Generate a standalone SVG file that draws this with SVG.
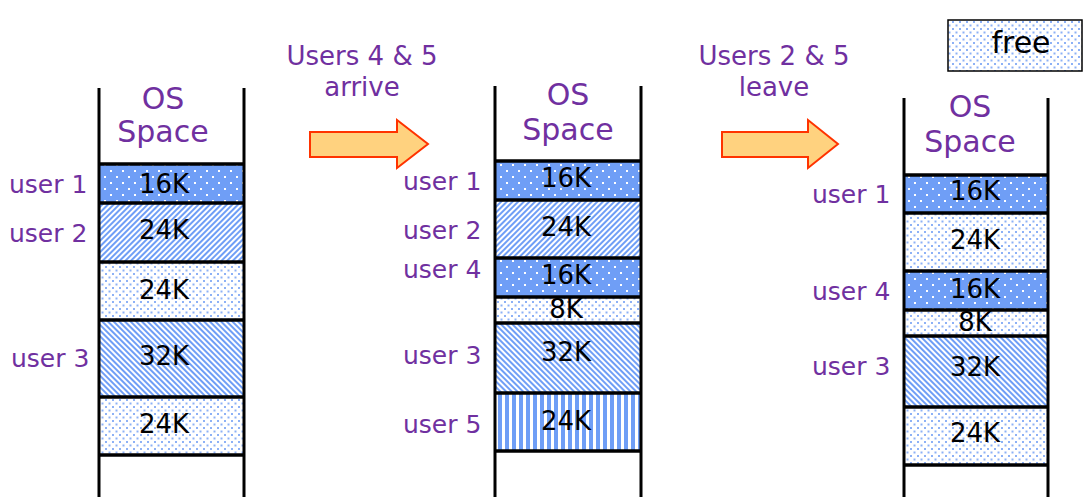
<svg xmlns="http://www.w3.org/2000/svg" width="1085" height="497" viewBox="0 0 1085 497">
<style>
.t{font-family:"DejaVu Sans","Verdana",sans-serif;font-size:26px;fill:#000}
.c{text-anchor:middle}
.u{font-family:"DejaVu Sans","Verdana",sans-serif;font-size:25px;fill:#7030A0}
.os{font-size:30px}
.hd{font-size:26px}
.lg{font-size:30px}
.v{stroke:#000;stroke-width:3;fill:none}
.h{stroke:#000;stroke-width:3.5}
.arr{fill:#FFD27F;stroke:#FF3300;stroke-width:2}
</style>
<defs>
<pattern id="pSolid" width="12" height="12" patternUnits="userSpaceOnUse">
<rect width="12" height="12" fill="#6F9EF6"/>
<rect x="2" y="2" width="2" height="2" fill="#fff"/>
<rect x="8" y="8" width="2" height="2" fill="#fff"/>
</pattern>
<pattern id="pFree" width="7" height="7" patternUnits="userSpaceOnUse">
<rect width="7" height="7" fill="#fff"/>
<rect x="0" y="0" width="2" height="2" fill="#8DB1F6"/>
<rect x="3.5" y="3.5" width="2" height="2" fill="#8DB1F6"/>
</pattern>
<pattern id="pUp" width="4" height="4" patternUnits="userSpaceOnUse" patternTransform="rotate(45)">
<rect width="4" height="4" fill="#fff"/>
<rect width="2" height="4" fill="#6F9EF6"/>
</pattern>
<pattern id="pDown" width="4" height="4" patternUnits="userSpaceOnUse" patternTransform="rotate(-45)">
<rect width="4" height="4" fill="#fff"/>
<rect width="2" height="4" fill="#6F9EF6"/>
</pattern>
<pattern id="pVert" width="7" height="7" patternUnits="userSpaceOnUse">
<rect width="7" height="7" fill="#fff"/>
<rect x="1" width="4" height="7" fill="#6F9EF6"/>
</pattern>
</defs>
<rect width="1085" height="497" fill="#fff"/>

<g id="legend">
<rect x="948" y="20" width="134" height="51" fill="url(#pFree)" stroke="#000" stroke-width="1.5"/>
<text class="t c lg" x="1021" y="53">free</text>
</g>

<g id="step1">
<text class="u c os" x="163" y="109">OS</text>
<text class="u c os" x="163" y="142">Space</text>
<rect x="100" y="164" width="143" height="39" fill="url(#pSolid)"/>
<rect x="100" y="203" width="143" height="59" fill="url(#pUp)"/>
<rect x="100" y="262" width="143" height="58" fill="url(#pFree)"/>
<rect x="100" y="320" width="143" height="77" fill="url(#pDown)"/>
<rect x="100" y="397" width="143" height="58" fill="url(#pFree)"/>
<line class="h" x1="99" y1="164" x2="244" y2="164"/>
<line class="h" x1="99" y1="203" x2="244" y2="203"/>
<line class="h" x1="99" y1="262" x2="244" y2="262"/>
<line class="h" x1="99" y1="320" x2="244" y2="320"/>
<line class="h" x1="99" y1="397" x2="244" y2="397"/>
<line class="h" x1="99" y1="455" x2="244" y2="455"/>
<line class="v" x1="99" y1="88" x2="99" y2="497"/>
<line class="v" x1="244" y1="88" x2="244" y2="497"/>
<text class="t c" x="164" y="193">16K</text>
<text class="t c" x="164" y="239">24K</text>
<text class="t c" x="164" y="299">24K</text>
<text class="t c" x="164" y="365">32K</text>
<text class="t c" x="164" y="433">24K</text>
<text class="u" x="9" y="193">user 1</text>
<text class="u" x="9" y="242">user 2</text>
<text class="u" x="11" y="367">user 3</text>
</g>

<g id="step2">
<text class="u c os" x="568" y="105">OS</text>
<text class="u c os" x="568" y="140">Space</text>
<rect x="496" y="161" width="144" height="39" fill="url(#pSolid)"/>
<rect x="496" y="200" width="144" height="58" fill="url(#pUp)"/>
<rect x="496" y="258" width="144" height="39" fill="url(#pSolid)"/>
<rect x="496" y="297" width="144" height="26" fill="url(#pFree)"/>
<rect x="496" y="323" width="144" height="70" fill="url(#pDown)"/>
<rect x="496" y="393" width="144" height="58" fill="url(#pVert)"/>
<line class="h" x1="495" y1="161" x2="641" y2="161"/>
<line class="h" x1="495" y1="200" x2="641" y2="200"/>
<line class="h" x1="495" y1="258" x2="641" y2="258"/>
<line class="h" x1="495" y1="297" x2="641" y2="297"/>
<line class="h" x1="495" y1="323" x2="641" y2="323"/>
<line class="h" x1="495" y1="393" x2="641" y2="393"/>
<line class="h" x1="495" y1="451" x2="641" y2="451"/>
<line class="v" x1="495" y1="86" x2="495" y2="497"/>
<line class="v" x1="641" y1="86" x2="641" y2="497"/>
<text class="t c" x="566" y="187">16K</text>
<text class="t c" x="566" y="236">24K</text>
<text class="t c" x="566" y="284">16K</text>
<text class="t c" x="566" y="318">8K</text>
<text class="t c" x="566" y="361">32K</text>
<text class="t c" x="566" y="430">24K</text>
<text class="u" x="403" y="190">user 1</text>
<text class="u" x="403" y="239">user 2</text>
<text class="u" x="403" y="278">user 4</text>
<text class="u" x="403" y="364">user 3</text>
<text class="u" x="403" y="433">user 5</text>
</g>

<g id="step3">
<text class="u c os" x="970" y="117">OS</text>
<text class="u c os" x="970" y="152">Space</text>
<rect x="905" y="175" width="142" height="38" fill="url(#pSolid)"/>
<rect x="905" y="213" width="142" height="58" fill="url(#pFree)"/>
<rect x="905" y="271" width="142" height="39" fill="url(#pSolid)"/>
<rect x="905" y="310" width="142" height="26" fill="url(#pFree)"/>
<rect x="905" y="336" width="142" height="71" fill="url(#pDown)"/>
<rect x="905" y="407" width="142" height="58" fill="url(#pFree)"/>
<line class="h" x1="904" y1="175" x2="1048" y2="175"/>
<line class="h" x1="904" y1="213" x2="1048" y2="213"/>
<line class="h" x1="904" y1="271" x2="1048" y2="271"/>
<line class="h" x1="904" y1="310" x2="1048" y2="310"/>
<line class="h" x1="904" y1="336" x2="1048" y2="336"/>
<line class="h" x1="904" y1="407" x2="1048" y2="407"/>
<line class="h" x1="904" y1="465" x2="1048" y2="465"/>
<line class="v" x1="904" y1="98" x2="904" y2="497"/>
<line class="v" x1="1048" y1="98" x2="1048" y2="497"/>
<text class="t c" x="975" y="200">16K</text>
<text class="t c" x="975" y="249">24K</text>
<text class="t c" x="975" y="298">16K</text>
<text class="t c" x="975" y="331">8K</text>
<text class="t c" x="975" y="376">32K</text>
<text class="t c" x="975" y="442">24K</text>
<text class="u" x="812" y="203">user 1</text>
<text class="u" x="812" y="300">user 4</text>
<text class="u" x="812" y="375">user 3</text>
</g>

<g id="connectors">
<polygon class="arr" points="310,132 397,132 397,120 428,144 397,168 397,157 310,157"/>
<text class="u c hd" x="362" y="65">Users 4 &amp; 5</text>
<text class="u c hd" x="362" y="96">arrive</text>
<polygon class="arr" points="722,132 808,132 808,120 838,144 808,168 808,157 722,157"/>
<text class="u c hd" x="774" y="65">Users 2 &amp; 5</text>
<text class="u c hd" x="774" y="96">leave</text>
</g>
</svg>
